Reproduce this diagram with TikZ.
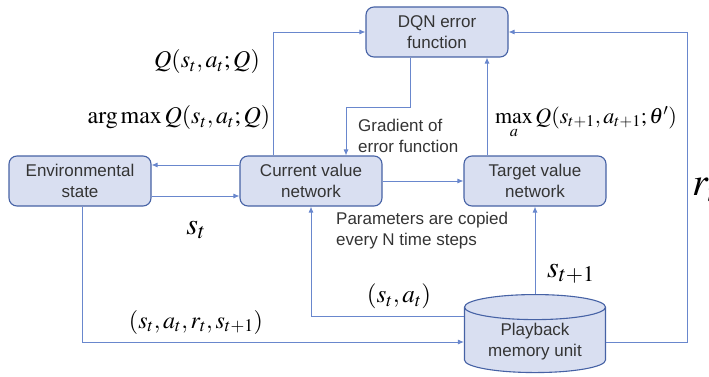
\documentclass[tikz,border=0pt]{standalone}
\usepackage{mathptmx}
\usepackage{fontspec}
\setmainfont{Liberation Sans}
\usetikzlibrary{arrows.meta,shapes.geometric}

\definecolor{boxfill}{RGB}{217,223,241}
\definecolor{boxline}{RGB}{70,98,165}
\definecolor{linkblue}{RGB}{105,135,205}
\definecolor{boxtext}{RGB}{52,52,52}

\tikzset{
  unit/.style={draw=boxline, fill=boxfill, line width=1.1pt, rounded corners=8pt,
    minimum width=142pt, minimum height=50pt, align=center, text=boxtext,
    font=\fontsize{17}{21}\selectfont},
  store/.style={unit, sharp corners, cylinder, shape border rotate=90, aspect=0.25,
    minimum width=141pt, minimum height=78pt},
  link/.style={draw=linkblue, line width=0.9pt, -{Latex[length=6pt,width=5pt]}},
  eq/.style={font=\fontsize{24}{28}\selectfont, inner sep=0pt},
  note/.style={align=left, text=boxtext, font=\fontsize{17}{21}\selectfont, inner sep=0pt},
}

\begin{document}
\begin{tikzpicture}[x=1pt,y=-1pt]
  \useasboundingbox (0,0) rectangle (709,377);

  % blocks
  \node[unit] (dqn) at (437,32) {DQN error\\function};
  \node[unit] (env) at (80,181) {Environmental\\state};
  \node[unit] (cur) at (311,181) {Current value\\network};
  \node[unit] (tgt) at (535,181) {Target value\\network};
  \node[store] (mem) at (535,342) {Playback\\memory unit};

  % connections
  \draw[link] ([yshift=16pt]cur.west) -- ([yshift=16pt]env.east);
  \draw[link] ([yshift=-15pt]env.east) -- ([yshift=-15pt]cur.west);
  \draw[link] ([xshift=-38pt]cur.north) |- (dqn.west);
  \draw[link] ([xshift=-27pt]dqn.south) -- ++(0,50) -| ([xshift=35pt]cur.north);
  \draw[link] (cur.east) -- (tgt.west);
  \draw[link] ([xshift=-48pt]tgt.north) -- ([xshift=-48pt]tgt.north |- dqn.south);
  \draw[link] (mem.east) -- ++(81,0) |- (dqn.east);
  \draw[link] ([xshift=2pt]env.south) |- (mem.west);
  \draw[link] ([yshift=26pt]mem.west) -| (cur.south);
  \draw[link] (mem.north) -- (tgt.south);

  % labels
  \node[eq] (qcur) at (207,62) {$Q(s_t,a_t;Q)$};
  \node[eq] (act) at (179,118) {$\arg\max Q(s_t,a_t;Q)$};
  \node[eq, font=\fontsize{22}{26}\selectfont] (qtgt) at (586,123) {$\max\limits_{a} Q(s_{t+1},a_{t+1};\theta')$};
  \node[eq, font=\fontsize{30}{34}\selectfont] (st) at (196,230) {$s_t$};
  \node[eq] (trans) at (196,322) {$(s_t,a_t,r_t,s_{t+1})$};
  \node[eq, font=\fontsize{25}{29}\selectfont] (pair) at (399,296) {$(s_t,a_t)$};
  \node[eq, font=\fontsize{30}{34}\selectfont] (snext) at (571,274) {$s_{t+1}$};
  \node[eq, font=\fontsize{40}{44}\selectfont, anchor=west] (rew) at (692,190) {$r_t$};
  \node[note, anchor=west] (grad) at (358,136) {Gradient of\\error function};
  \node[note, anchor=west] (copy) at (336,231) {Parameters are copied\\every N time steps};
\end{tikzpicture}
\end{document}
